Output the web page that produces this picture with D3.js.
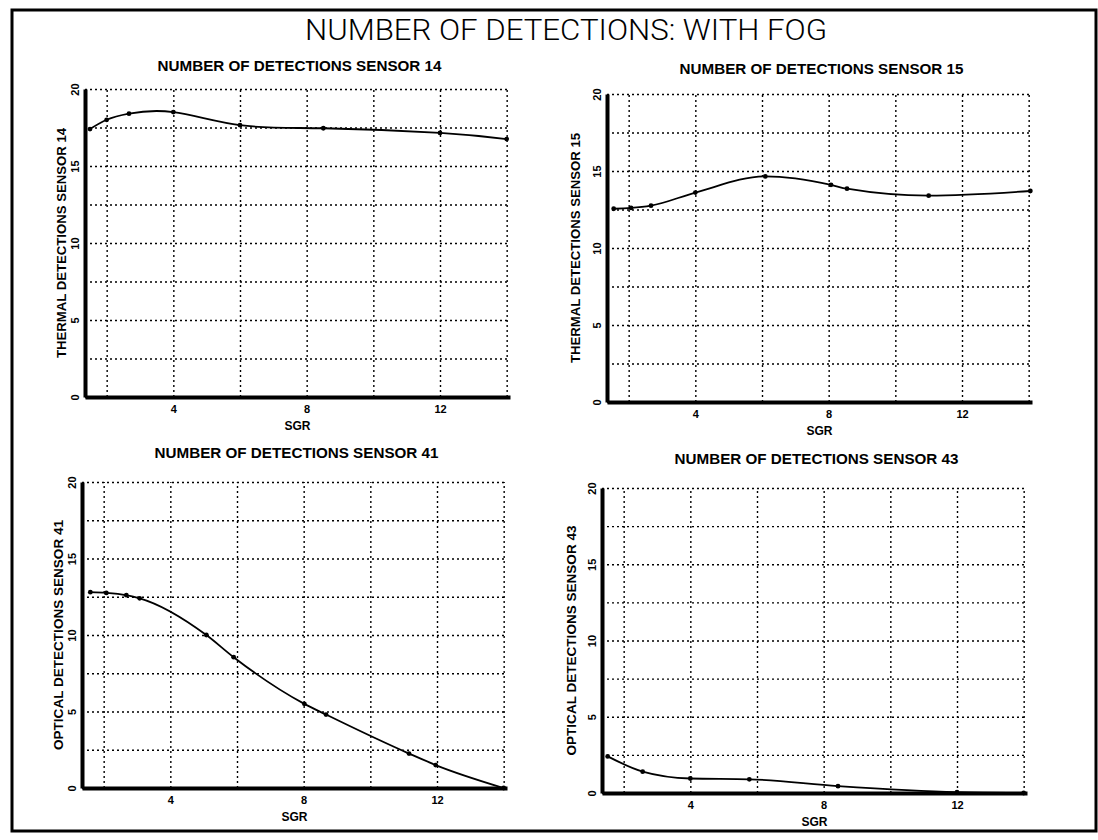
<!DOCTYPE html>
<meta charset="utf-8">
<style>
body { margin: 0; background: #fff; }
text { font-family: "Liberation Sans", Arial, sans-serif; fill: #000; }
.grid line { stroke: #000; stroke-width: 1.4px; stroke-dasharray: 2,3; }
.grid path { display: none; }
.axis line { display: none; }
.axis text { font-weight: bold; font-size: 11px; }
.line { fill: none; stroke: #000; stroke-width: 1.8px; }
</style>
<body>
<script src="https://d3js.org/d3.v7.min.js"></script>
<script>
// chart data
var mainTitle = "NUMBER OF DETECTIONS: WITH FOG";
var sgrTicks = [4, 8, 12];
var sgrGrid = [2, 4, 6, 8, 10, 12, 14];
var yTicks = [0, 5, 10, 15, 20];
var yGrid = [0, 2.5, 5, 7.5, 10, 12.5, 15, 17.5, 20];

var s14x = [1.5, 2, 2.67, 4, 6, 8.5, 12, 14];
var s14y = [17.4, 18.0, 18.4, 18.5, 17.65, 17.45, 17.15, 16.75];

var s15x = [1.55, 2.07, 2.67, 4, 6.1, 8.07, 8.55, 11, 14.05];
var s15y = [12.55, 12.6, 12.75, 13.6, 14.65, 14.1, 13.85, 13.4, 13.7];

var s41x = [1.6, 2.08, 2.68, 3.08, 5.08, 5.9, 8.02, 8.67, 11.16, 11.96, 14];
var s41y = [12.8, 12.75, 12.6, 12.4, 10.0, 8.55, 5.5, 4.8, 2.25, 1.5, 0];

var s43x = [1.52, 2.57, 4, 5.77, 8.43, 12, 14];
var s43y = [2.4, 1.4, 0.95, 0.9, 0.45, 0.05, 0];

var titles = ["NUMBER OF DETECTIONS SENSOR 14", "NUMBER OF DETECTIONS SENSOR 15",
              "NUMBER OF DETECTIONS SENSOR 41", "NUMBER OF DETECTIONS SENSOR 43"];
var yLabels = ["THERMAL DETECTIONS SENSOR 14", "THERMAL DETECTIONS SENSOR 15",
               "OPTICAL DETECTIONS SENSOR 41", "OPTICAL DETECTIONS SENSOR 43"];

// panel layout
var panels = [
  {left: 85,  top: 89,  h: 308, xs: s14x, ys: s14y, labX: -19, tY: -18, curve: d3.curveNatural},
  {left: 607, top: 94,  h: 308, xs: s15x, ys: s15y, labX: -27, tY: -20, curve: d3.curveMonotoneX},
  {left: 82,  top: 482, h: 306, xs: s41x, ys: s41y, labX: -19, tY: -24, curve: d3.curveMonotoneX},
  {left: 602, top: 488, h: 305, xs: s43x, ys: s43y, labX: -26, tY: -24, curve: d3.curveMonotoneX}
];
var pw = 425;

var svg = d3.select("body").append("svg")
    .attr("width", 1098)
    .attr("height", 840);

// outer frame
svg.append("rect")
    .attr("x", 12).attr("y", 10)
    .attr("width", 1084).attr("height", 821)
    .attr("fill", "none").attr("stroke", "#000").attr("stroke-width", 3);

svg.append("text")
    .attr("x", 566).attr("y", 40)
    .attr("text-anchor", "middle")
    .attr("textLength", 522).attr("lengthAdjust", "spacingAndGlyphs")
    .style("font-family", "Roboto, 'DejaVu Sans', sans-serif")
    .style("font-weight", 300)
    .style("font-size", "30px")
    .text(mainTitle);

panels.forEach(function(p, i) {
  var ph = p.h;
  var x = d3.scaleLinear().domain([1.35, 14.1]).range([0, pw]);
  var y = d3.scaleLinear().domain([0, 20]).range([ph, 0]);

  var g = svg.append("g")
      .attr("transform", "translate(" + p.left + "," + p.top + ")");

  // dotted grid
  g.append("g")
      .attr("class", "grid")
      .attr("transform", "translate(0," + ph + ")")
      .call(d3.axisBottom(x).tickValues(sgrGrid).tickSize(-ph).tickFormat(""));
  g.append("g")
      .attr("class", "grid")
      .call(d3.axisLeft(y).tickValues(yGrid).tickSize(-pw).tickFormat(""));

  // solid axes
  var xa = g.append("g")
      .attr("class", "axis")
      .attr("transform", "translate(0," + ph + ")")
      .call(d3.axisBottom(x).tickValues(sgrTicks).tickSize(0).tickPadding(8).tickSizeOuter(0));
  var ya = g.append("g")
      .attr("class", "axis")
      .call(d3.axisLeft(y).tickValues(yTicks).tickSize(0).tickSizeOuter(0).tickFormat(d3.format("d")));
  xa.select(".domain").attr("stroke", "#000").attr("stroke-width", 4);
  ya.select(".domain").attr("stroke", "#000").attr("stroke-width", 4);
  ya.selectAll(".tick text")
      .attr("x", 0).attr("dy", 0)
      .attr("text-anchor", "middle")
      .attr("transform", "translate(-6,0) rotate(-90)");

  // curve
  var line = d3.line()
      .x(function(d) { return x(d[0]); })
      .y(function(d) { return y(d[1]); })
      .curve(p.curve);
  var pts = p.xs.map(function(v, k) { return [v, p.ys[k]]; });
  g.append("path").datum(pts).attr("class", "line").attr("d", line);
  g.selectAll(".pt").data(pts).enter().append("circle")
      .attr("class", "pt")
      .attr("cx", function(d) { return x(d[0]); })
      .attr("cy", function(d) { return y(d[1]); })
      .attr("r", 2.4);

  // labels
  g.append("text")
      .attr("x", pw / 2 + 2).attr("y", p.tY)
      .attr("text-anchor", "middle")
      .attr("textLength", 284).attr("lengthAdjust", "spacingAndGlyphs")
      .style("font-weight", "bold").style("font-size", "15px")
      .text(titles[i]);
  g.append("text")
      .attr("x", pw / 2).attr("y", ph + 33)
      .attr("text-anchor", "middle")
      .style("font-weight", "bold").style("font-size", "12px")
      .text("SGR");
  g.append("text")
      .attr("transform", "translate(" + p.labX + "," + (ph / 2) + ") rotate(-90)")
      .attr("text-anchor", "middle")
      .attr("textLength", 230).attr("lengthAdjust", "spacingAndGlyphs")
      .style("font-weight", "bold").style("font-size", "13px")
      .text(yLabels[i]);
});
</script>
</body>
